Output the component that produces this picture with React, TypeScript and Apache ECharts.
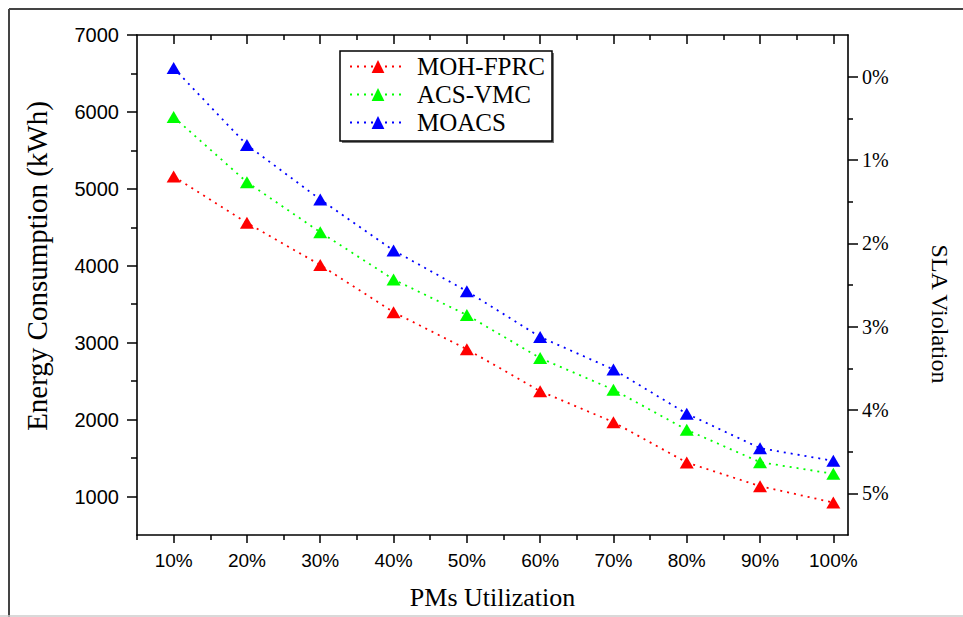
import React, { useEffect, useRef } from "react";
import * as echarts from "echarts";

const utilization = [10, 20, 30, 40, 50, 60, 70, 80, 90, 100];
const mohFprc = [5160, 4558, 4010, 3397, 2915, 2370, 1967, 1442, 1135, 922];
const acsVmc = [5934, 5087, 4437, 3822, 3360, 2800, 2389, 1867, 1447, 1295];
const moacs = [6570, 5570, 4862, 4199, 3670, 3075, 2652, 2077, 1629, 1464];
const seriesNames = ["MOH-FPRC", "ACS-VMC", "MOACS"];
const seriesColors = ["#ff0000", "#00ff00", "#0000ff"];
const leftMajor = [1000, 2000, 3000, 4000, 5000, 6000, 7000];
const leftMinor = [1500, 2500, 3500, 4500, 5500, 6500];
const rightMajor = [0, 1, 2, 3, 4, 5];
const rightMinor = [0.5, 1.5, 2.5, 3.5, 4.5];
const xMajor = [10, 20, 30, 40, 50, 60, 70, 80, 90, 100];
const xMinor = [5, 15, 25, 35, 45, 55, 65, 75, 85, 95];

const SANS = "Liberation Sans, Arial, sans-serif";
const SERIF = "Liberation Serif, Times New Roman, serif";

export default function App() {
  const ref = useRef<HTMLDivElement>(null);
  useEffect(() => {
    if (!ref.current) return;
    const chart = echarts.init(ref.current, undefined, { renderer: "svg" });
    const axisLine = { show: true, onZero: false, lineStyle: { color: "#000", width: 1.6 } };
    const noLine = { show: false, onZero: false };
    const tickStyle = { color: "#000", width: 1.5 };
    const xBase = { type: "value", min: 5, max: 102, splitLine: { show: false }, gridIndex: 0 };
    const yLeftBase = { type: "value", min: 500, max: 7000, splitLine: { show: false } };
    const yRightBase = { type: "value", min: -0.5, max: 5.5, inverse: true, splitLine: { show: false } };
    const data = [mohFprc, acsVmc, moacs];
    chart.setOption({
      animation: false,
      backgroundColor: "#fff",
      grid: { left: 137, top: 35, width: 711, height: 500 },
      legend: {
        orient: "vertical",
        left: 349,
        top: 54,
        padding: 0,
        itemGap: 3,
        itemWidth: 56,
        itemHeight: 16,
        data: seriesNames,
        textStyle: { fontFamily: SERIF, fontSize: 25, color: "#000", padding: [0, 0, 0, 6] },
      },
      graphic: [
        { type: "rect", shape: { x: 0, y: 0, width: 212, height: 90 }, x: 342, y: 53, style: { fill: "#777" }, z: 0 },
        { type: "rect", shape: { x: 0, y: 0, width: 212, height: 90 }, x: 340, y: 51, style: { fill: "#fff", stroke: "#000", lineWidth: 1.5 }, z: 1 },
        { type: "line", shape: { x1: 9, y1: 9, x2: 963, y2: 9 }, style: { stroke: "#444", lineWidth: 2 } },
        { type: "line", shape: { x1: 9, y1: 9, x2: 9, y2: 617 }, style: { stroke: "#444", lineWidth: 2 } },
        { type: "line", shape: { x1: 0, y1: 616, x2: 963, y2: 616 }, style: { stroke: "#ccc", lineWidth: 1.5 } },
      ],
      xAxis: [
        {
          ...xBase,
          position: "bottom",
          axisLine,
          axisTick: { show: true, inside: false, length: 8, customValues: xMajor, lineStyle: tickStyle },
          axisLabel: { show: true, customValues: xMajor, formatter: (v: number) => `${v}%`, margin: 16, fontFamily: SANS, fontSize: 19, color: "#000" },
          name: "PMs Utilization",
          nameLocation: "middle",
          nameGap: 49,
          nameTextStyle: { fontFamily: SERIF, fontSize: 26, color: "#000" },
        },
        {
          ...xBase,
          position: "bottom",
          axisLine: noLine,
          axisTick: { show: true, inside: false, length: 5, customValues: xMinor, lineStyle: tickStyle },
          axisLabel: { show: false },
        },
        {
          ...xBase,
          position: "top",
          axisLine,
          axisTick: { show: true, inside: true, length: 9, customValues: xMajor, lineStyle: tickStyle },
          axisLabel: { show: false },
        },
        {
          ...xBase,
          position: "top",
          axisLine: noLine,
          axisTick: { show: true, inside: true, length: 5, customValues: xMinor.slice(1), lineStyle: tickStyle },
          axisLabel: { show: false },
        },
      ],
      yAxis: [
        {
          ...yLeftBase,
          position: "left",
          axisLine,
          axisTick: { show: true, inside: false, length: 10, customValues: leftMajor, lineStyle: tickStyle },
          axisLabel: { show: true, customValues: leftMajor, formatter: (v: number) => String(v), margin: 18, fontFamily: SANS, fontSize: 20, color: "#000" },
          name: "Energy Consumption (kWh)",
          nameLocation: "middle",
          nameGap: 86,
          nameTextStyle: { fontFamily: SERIF, fontSize: 29, color: "#000", padding: [0, 0, 0, 38] },
        },
        {
          ...yLeftBase,
          position: "left",
          axisLine: noLine,
          axisTick: { show: true, inside: false, length: 6, customValues: leftMinor, lineStyle: tickStyle },
          axisLabel: { show: false },
        },
        {
          ...yRightBase,
          position: "right",
          axisLine,
          axisTick: { show: true, inside: false, length: 10, customValues: rightMajor, lineStyle: tickStyle },
          axisLabel: { show: true, customValues: rightMajor, formatter: (v: number) => `${v}%`, margin: 14, fontFamily: SERIF, fontSize: 20, color: "#000" },
          name: "SLA Violation",
          nameLocation: "middle",
          nameRotate: -90,
          nameGap: 80,
          nameTextStyle: { fontFamily: SERIF, fontSize: 24, color: "#000", padding: [0, 0, 0, 58] },
        },
        {
          ...yRightBase,
          position: "right",
          axisLine: noLine,
          axisTick: { show: true, inside: false, length: 5, customValues: rightMinor, lineStyle: tickStyle },
          axisLabel: { show: false },
        },
      ],
      series: seriesNames.map((name, i) => ({
        name,
        type: "line",
        xAxisIndex: 0,
        yAxisIndex: 0,
        data: utilization.map((u, j) => [u, data[i][j]]),
        symbol: "triangle",
        symbolSize: [14, 12],
        itemStyle: { color: seriesColors[i] },
        lineStyle: { color: seriesColors[i], width: 1.8, type: [2, 5] },
        z: 3,
      })),
    });
    return () => chart.dispose();
  }, []);
  return <div ref={ref} style={{ position: "fixed", left: 0, top: 0, width: 963, height: 617 }} />;
}
